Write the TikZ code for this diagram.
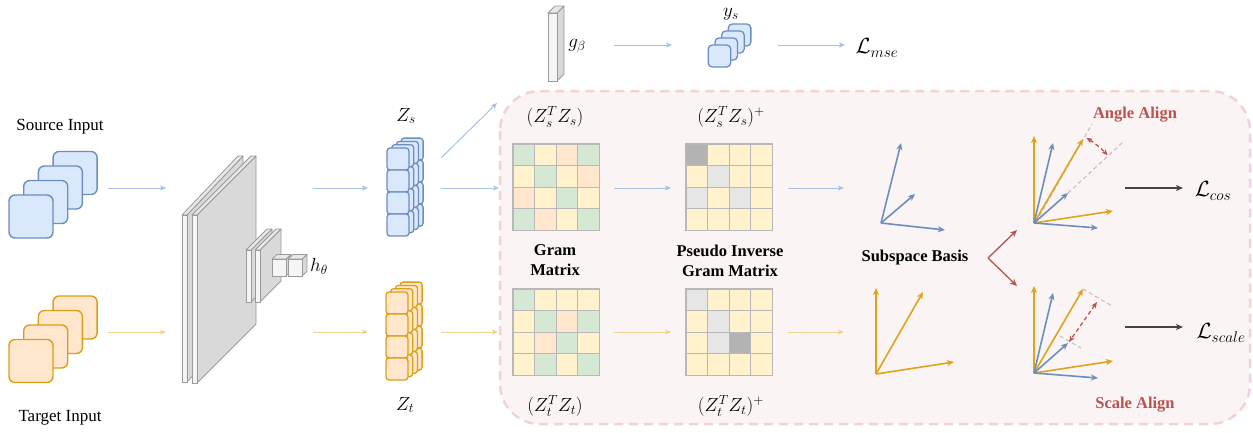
\RequirePackage{fix-cm}
\documentclass[tikz,border=0pt]{standalone}
\usepackage{fontspec}
\setmainfont{Liberation Serif}
\usetikzlibrary{arrows.meta,calc}

\definecolor{bfill}{HTML}{DAE8FC}
\definecolor{bline}{HTML}{6C8EBF}
\definecolor{ofill}{HTML}{FFE6CC}
\definecolor{oline}{HTML}{DB9F14}
\definecolor{ovec}{HTML}{DFA31C}
\definecolor{barrowc}{HTML}{A9C1E6}
\definecolor{oarrowc}{HTML}{EFD28E}
\definecolor{cG}{HTML}{D5E8D4}
\definecolor{cY}{HTML}{FFF2CC}
\definecolor{cO}{HTML}{FFE6CC}
\definecolor{cL}{HTML}{E6E6E6}
\definecolor{cD}{HTML}{B3B3B3}
\definecolor{gridc}{HTML}{B8B8B8}
\definecolor{redc}{HTML}{B85450}
\definecolor{panelfill}{HTML}{FBF4F4}
\definecolor{paneldash}{HTML}{F2D2D2}
\definecolor{darkarrow}{HTML}{444444}
\definecolor{slabfrontc}{HTML}{F5F5F5}
\definecolor{slabsidec}{HTML}{D9D9D9}
\definecolor{slabtopc}{HTML}{E8E8E8}
\definecolor{slabline}{HTML}{9A9A9A}
\definecolor{guide}{HTML}{BDBDBD}

% a thin 3D slab: front face (x1,y1)-(x2,y2), depth (dx,dy)
\newcommand\drawslab[6]{%
  \filldraw[fill=slabsidec,draw=slabline,line width=0.8pt,line join=round]
    (#3,#2) -- (#3+#5,#2+#6) -- (#3+#5,#4+#6) -- (#3,#4) -- cycle;
  \filldraw[fill=slabtopc,draw=slabline,line width=0.8pt,line join=round]
    (#1,#2) -- (#1+#5,#2+#6) -- (#3+#5,#2+#6) -- (#3,#2) -- cycle;
  \filldraw[fill=slabfrontc,draw=slabline,line width=0.8pt] (#1,#2) rectangle (#3,#4);}

% a stack of four layers, each a column of four feature cells
\newcommand\zstack[4]{%
  \foreach \k in {3,2,1,0}{%
    \foreach \i in {0,...,3}{%
      \filldraw[fill=#3,draw=#4,line width=1.3pt,rounded corners=3pt]
        (#1+4.7*\k,#2-3.3*\k+22*\i) rectangle ++(22,22);}}}

% a 4x4 matrix of coloured cells
\newcommand\cellgrid[3]{%
  \foreach \cl [count=\n from 0] in {#3}{%
    \pgfmathtruncatemacro\rowi{div(\n,4)}%
    \pgfmathtruncatemacro\coli{mod(\n,4)}%
    \filldraw[fill=\cl,draw=gridc,line width=1.2pt]
      (#1+\coli*21.6,#2+\rowi*21.6) rectangle ++(21.6,21.6);}}

\begin{document}
\begin{tikzpicture}[x=1pt,y=-1pt,
  every node/.style={font=\fontsize{17}{20}\selectfont,inner sep=0pt},
  mathlbl/.style={font=\fontsize{19}{22}\selectfont},
  losslbl/.style={font=\fontsize{22}{26}\selectfont},
  lbl/.style={font=\fontsize{16.5}{19}\selectfont\bfseries,align=center},
  redlbl/.style={lbl,text=redc},
  inbox/.style={minimum width=44pt,minimum height=43pt,rounded corners=6pt,line width=1.4pt},
  smallbox/.style={minimum width=22.5pt,minimum height=22pt,rounded corners=4pt,line width=1.3pt,fill=bfill,draw=bline},
  flowb/.style={draw=barrowc,line width=1pt,-{Stealth[length=6pt,width=5pt,inset=1.5pt]}},
  flowo/.style={draw=oarrowc,line width=1pt,-{Stealth[length=6pt,width=5pt,inset=1.5pt]}},
  vecb/.style={draw=bline,line width=1.6pt,-{Stealth[length=7pt,width=6pt,inset=2pt]}},
  veco/.style={draw=ovec,line width=1.6pt,-{Stealth[length=7pt,width=6pt,inset=2pt]}},
  redvec/.style={draw=redc,line width=1.3pt,-{Stealth[length=7pt,width=6pt,inset=2pt]}},
  reddash/.style={draw=redc,line width=1.3pt,dash pattern=on 4pt off 3pt,
    {Stealth[length=6pt,width=5pt,inset=1.5pt]}-{Stealth[length=6pt,width=5pt,inset=1.5pt]}},
  guideline/.style={draw=guide,line width=1pt,dash pattern=on 4pt off 3pt},
  lossarrow/.style={draw=darkarrow,line width=1.2pt,-{Stealth[length=7pt,width=6pt,inset=2pt]}}]

\useasboundingbox (0,0) rectangle (1253,432);

% alignment panel
\draw[draw=paneldash,fill=panelfill,line width=2.5pt,dash pattern=on 9pt off 6pt,
  rounded corners=40pt] (500,91) rectangle (1250,424);

% inputs
\foreach \k in {3,2,1,0}
  \node[inbox,fill=bfill,draw=bline] (src\k) at (31+14.7*\k,216.5-14.5*\k) {};
\foreach \k in {3,2,1,0}
  \node[inbox,fill=ofill,draw=oline] (tgt\k) at (31+14.7*\k,361-14.5*\k) {};
\node (srclbl) at (60,127) {Source Input};
\node (tgtlbl) at (60,418) {Target Input};

\coordinate (s-out) at (108,188);  \coordinate (enc-in-s) at (166,188);
\coordinate (t-out) at (108,332);  \coordinate (enc-in-t) at (166,332);
\draw[flowb] (s-out) -- (enc-in-s);
\draw[flowo] (t-out) -- (enc-in-t);

% encoder h_theta
\drawslab{182}{215}{187}{382}{56}{-59}
\drawslab{192}{215}{197}{383}{59}{-59}
\drawslab{246}{250}{251}{302}{21}{-21}
\drawslab{255}{250}{260}{302}{21}{-21}
\drawslab{272}{259}{286}{276}{5}{-4.5}
\drawslab{288}{259}{302}{276}{5}{-4.5}
\node[mathlbl] (hlbl) at (319,266) {$h_\theta$};

\coordinate (enc-out-s) at (313,188); \coordinate (zs-in) at (368,188);
\coordinate (enc-out-t) at (313,332); \coordinate (zt-in) at (368,332);
\draw[flowb] (enc-out-s) -- (zs-in);
\draw[flowo] (enc-out-t) -- (zt-in);

% features
\zstack{387}{148}{bfill}{bline}
\zstack{386}{292}{ofill}{oline}
\node[mathlbl] (zslbl) at (406,116) {$Z_s$};
\node[mathlbl] (ztlbl) at (405,405) {$Z_t$};

\coordinate (zs-up) at (441,158);   \coordinate (g-in) at (497,103);
\coordinate (zs-out) at (441,188);  \coordinate (gs-in) at (499,188);
\coordinate (zt-out) at (441,332);  \coordinate (gt-in) at (498,332);
\draw[flowb] (zs-up) -- (g-in);
\draw[flowb] (zs-out) -- (gs-in);
\draw[flowo] (zt-out) -- (gt-in);

% regression head
\drawslab{548}{13}{557}{81}{7}{-7}
\node[mathlbl] (glbl) at (577,46) {$g_\beta$};
\coordinate (g-out) at (614,45); \coordinate (ys-in) at (672,45);
\draw[flowb] (g-out) -- (ys-in);
\foreach \k in {3,2,1,0}
  \node[smallbox] (ys\k) at (719.5+6.7*\k,56-7*\k) {};
\node[mathlbl] (yslbl) at (731,14) {$y_s$};
\coordinate (ys-out) at (778,45); \coordinate (mse-in) at (845,45);
\draw[flowb] (ys-out) -- (mse-in);
\node[losslbl] (mse) at (877,48) {$\mathcal{L}_{mse}$};

% Gram matrices and their pseudo inverses
\cellgrid{513}{144}{cG,cY,cO,cG,cY,cG,cY,cO,cO,cY,cG,cY,cG,cO,cY,cG}
\cellgrid{686}{144}{cD,cY,cY,cY,cY,cL,cY,cY,cL,cY,cL,cY,cY,cY,cY,cY}
\cellgrid{513}{289}{cG,cY,cY,cY,cY,cG,cO,cG,cY,cO,cG,cY,cY,cG,cY,cG}
\cellgrid{686}{289}{cL,cY,cY,cY,cY,cL,cY,cY,cY,cL,cD,cY,cY,cY,cY,cY}

\node[mathlbl] (gslbl) at (555,117) {$(Z_s^TZ_s)$};
\node[mathlbl] (pslbl) at (731,117) {$(Z_s^TZ_s)^+$};
\node[mathlbl] (gtlbl) at (555,406) {$(Z_t^TZ_t)$};
\node[mathlbl] (ptlbl) at (731,406) {$(Z_t^TZ_t)^+$};
\node[lbl] (gramlbl) at (555,260) {Gram\\[1pt]Matrix};
\node[lbl] (pinvlbl) at (730,261) {Pseudo Inverse\\[1pt]Gram Matrix};

\coordinate (gs-out) at (614,188); \coordinate (ps-in) at (671,188);
\coordinate (gt-out) at (614,332); \coordinate (pt-in) at (671,332);
\draw[flowb] (gs-out) -- (ps-in);
\draw[flowo] (gt-out) -- (pt-in);
\coordinate (ps-out) at (788,188); \coordinate (bs-in) at (844,188);
\coordinate (pt-out) at (788,332); \coordinate (bt-in) at (844,332);
\draw[flowb] (ps-out) -- (bs-in);
\draw[flowo] (pt-out) -- (bt-in);

% subspace bases
\coordinate (bo) at (881,223);
\draw[vecb] (bo) -- (901,143);
\draw[vecb] (bo) -- (915,194);
\draw[vecb] (bo) -- (945,230);
\coordinate (oo) at (876,374);
\draw[veco] (oo) -- (876,288);
\draw[veco] (oo) -- (923,292);
\draw[veco] (oo) -- (954,362);
\node[lbl] (basislbl) at (915,258) {Subspace Basis};

\coordinate (fork) at (988,258);
\coordinate (fork-up) at (1017,230);
\coordinate (fork-dn) at (1017,286);
\draw[redvec] (fork) -- (fork-up);
\draw[redvec] (fork) -- (fork-dn);

% angle alignment
\coordinate (ao) at (1034,223);
\draw[guideline] (1036,222) -- (1092,124);
\draw[guideline] (1068,193) -- (1123,142);
\draw[veco] (ao) -- (1034,136);
\draw[veco] (ao) -- (1083,139);
\draw[veco] (ao) -- (1113,211);
\draw[vecb] (ao) -- (1053,143);
\draw[vecb] (ao) -- (1068,193);
\draw[vecb] (ao) -- (1098,228);
\draw[reddash] ($(ao)+(58.4:100pt)$) arc[start angle=58.4,end angle=42.6,radius=100pt];
\node[redlbl] (anglelbl) at (1135,115) {Angle Align};
\coordinate (ang-out) at (1125,188); \coordinate (cos-in) at (1183,188);
\draw[lossarrow] (ang-out) -- (cos-in);
\node[losslbl] (cos) at (1213,191) {$\mathcal{L}_{cos}$};

% scale alignment
\coordinate (so) at (1034,373);
\draw[guideline] (1083,289) -- (1112,306);
\draw[guideline] (1060,336) -- (1081,348);
\draw[veco] (so) -- (1034,286);
\draw[veco] (so) -- (1083,289);
\draw[veco] (so) -- (1113,361);
\draw[vecb] (so) -- (1053,293);
\draw[vecb] (so) -- (1068,343);
\draw[vecb] (so) -- (1098,378);
\draw[reddash] (1097,302) -- (1069,342);
\node[redlbl] (scalelbl) at (1135,405) {Scale Align};
\coordinate (sc-out) at (1125,327); \coordinate (scale-in) at (1183,327);
\draw[lossarrow] (sc-out) -- (scale-in);
\node[losslbl] (scale) at (1221,333) {$\mathcal{L}_{scale}$};
\end{tikzpicture}
\end{document}
